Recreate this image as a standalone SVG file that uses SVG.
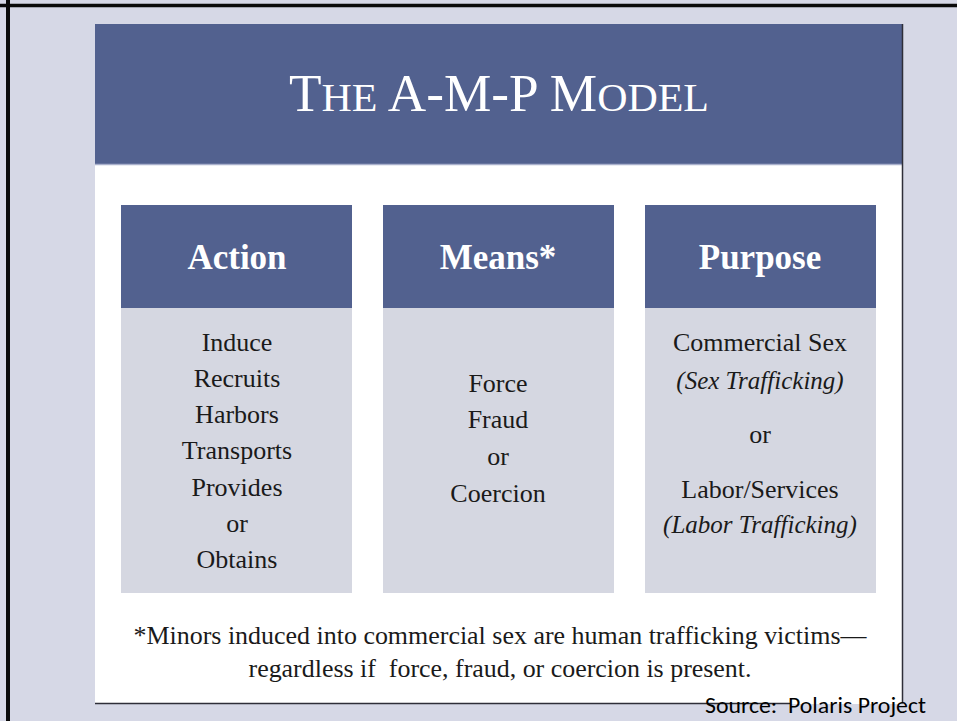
<svg xmlns="http://www.w3.org/2000/svg" width="957" height="721" viewBox="0 0 957 721">
  <style>
    .hdr { fill: #52618F; }
    .body { fill: #D5D7E1; }
    .htxt { font-size: 35px; font-weight: bold; fill: #FFFFFF; text-anchor: middle; }
    .btxt { font-size: 26px; fill: #1A1A1A; text-anchor: middle; }
    .itxt { font-size: 25px; font-style: italic; fill: #1A1A1A; text-anchor: middle; }
    .foot { font-size: 25px; fill: #1A1A1A; text-anchor: middle; }
  </style>
  <rect x="0" y="0" width="957" height="721" fill="#D6D8E6"/>
  <line x1="0" y1="5.5" x2="957" y2="5.5" stroke="#0A0A0A" stroke-width="3.5"/>
  <line x1="8" y1="0" x2="8" y2="721" stroke="#0A0A0A" stroke-width="4"/>

  <g id="panel">
    <rect x="95" y="24" width="807" height="680" fill="#FFFFFF"/>
    <rect x="95" y="24" width="807" height="140" class="hdr"/>
    <line x1="95" y1="164.5" x2="902" y2="164.5" stroke="#A9B0CC" stroke-width="1.5"/>
    <line x1="902.5" y1="24" x2="902.5" y2="703" stroke="#2E2E38" stroke-width="1.5"/>
    <line x1="95" y1="703.5" x2="790" y2="703.5" stroke="#2E2E38" stroke-width="1.5"/>
  </g>

  <g font-family="Liberation Serif, serif">
  <g id="title">
    <text x="499" y="111" fill="#FFFFFF" text-anchor="middle" font-size="52" textLength="420" lengthAdjust="spacingAndGlyphs"><tspan>T</tspan><tspan font-size="41">HE</tspan> A-M-P M<tspan font-size="41">ODEL</tspan></text>
  </g>

  <g id="action">
    <rect x="121" y="308" width="231" height="285" class="body"/>
    <rect x="121" y="205" width="231" height="103" class="hdr"/>
    <text x="237" y="269" class="htxt">Action</text>
    <text x="237" y="351" class="btxt">Induce</text>
    <text x="237" y="387" class="btxt">Recruits</text>
    <text x="237" y="423" class="btxt">Harbors</text>
    <text x="237" y="459" class="btxt">Transports</text>
    <text x="237" y="496" class="btxt">Provides</text>
    <text x="237" y="532" class="btxt">or</text>
    <text x="237" y="568" class="btxt">Obtains</text>
  </g>

  <g id="means">
    <rect x="383" y="308" width="231" height="285" class="body"/>
    <rect x="383" y="205" width="231" height="103" class="hdr"/>
    <text x="498" y="269" class="htxt">Means*</text>
    <text x="498" y="392" class="btxt">Force</text>
    <text x="498" y="428" class="btxt">Fraud</text>
    <text x="498" y="465" class="btxt">or</text>
    <text x="498" y="502" class="btxt">Coercion</text>
  </g>

  <g id="purpose">
    <rect x="645" y="308" width="231" height="285" class="body"/>
    <rect x="645" y="205" width="231" height="103" class="hdr"/>
    <text x="760" y="269" class="htxt">Purpose</text>
    <text x="760" y="351" class="btxt">Commercial Sex</text>
    <text x="760" y="389" class="itxt">(Sex Trafficking)</text>
    <text x="760" y="443" class="btxt">or</text>
    <text x="760" y="498" class="btxt">Labor/Services</text>
    <text x="760" y="533" class="itxt">(Labor Trafficking)</text>
  </g>

  <g id="connectors"></g>

  <g id="footnote">
    <text x="500" y="644" class="foot" textLength="733" lengthAdjust="spacingAndGlyphs">*Minors induced into commercial sex are human trafficking victims—</text>
    <text x="500" y="677" class="foot" textLength="503" lengthAdjust="spacingAndGlyphs" xml:space="preserve">regardless if  force, fraud, or coercion is present.</text>
  </g>
  </g>

  <g id="source">
    <text x="705" y="713" font-family="Carlito, Open Sans, Liberation Sans, sans-serif" font-size="22" fill="#000000" textLength="221" lengthAdjust="spacingAndGlyphs" xml:space="preserve">Source:  Polaris Project</text>
  </g>
</svg>
